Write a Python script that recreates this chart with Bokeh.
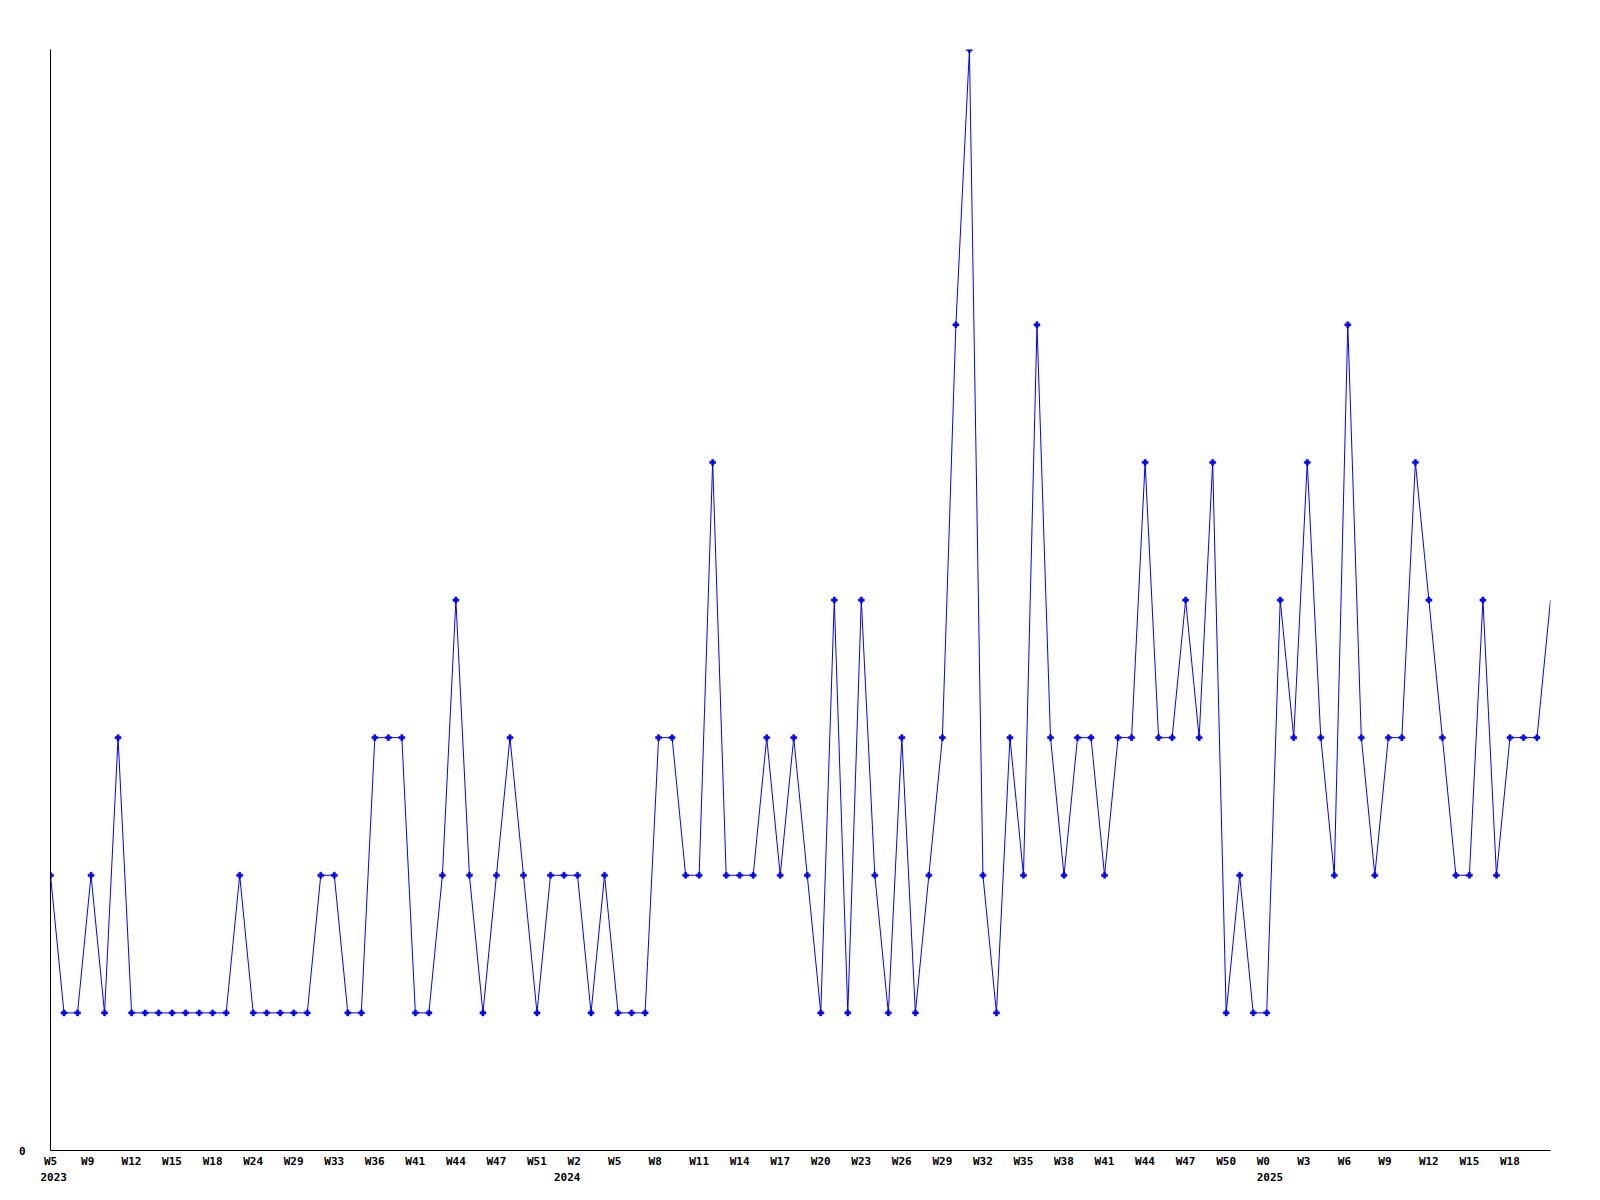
from bokeh.plotting import figure
from bokeh.models import Range1d, FixedTicker, LinearAxis, CustomJSTickFormatter
from bokeh.embed import file_html
from bokeh.resources import INLINE

# weekly values (one per point, left to right)
values = [2, 1, 1, 2, 1, 3, 1, 1, 1, 1,
          1, 1, 1, 1, 2, 1, 1, 1, 1, 1,
          2, 2, 1, 1, 3, 3, 3, 1, 1, 2,
          4, 2, 1, 2, 3, 2, 1, 2, 2, 2,
          1, 2, 1, 1, 1, 3, 3, 2, 2, 5,
          2, 2, 2, 3, 2, 3, 2, 1, 4, 1,
          4, 2, 1, 3, 1, 2, 3, 6, 8, 2,
          1, 3, 2, 6, 3, 2, 3, 3, 2, 3,
          3, 5, 3, 3, 4, 3, 5, 1, 2, 1,
          1, 4, 3, 5, 3, 2, 6, 3, 2, 3,
          3, 5, 4, 3, 2, 2, 4, 2, 3, 3,
          3, 4]
x_idx = list(range(len(values)))

# week tick labels (every third point)
week_labels = ["W5", "W9", "W12", "W15", "W18", "W24", "W29", "W33", "W36", "W41",
               "W44", "W47", "W51", "W2", "W5", "W8", "W11", "W14", "W17", "W20",
               "W23", "W26", "W29", "W32", "W35", "W38", "W41", "W44", "W47", "W50",
               "W0", "W3", "W6", "W9", "W12", "W15", "W18"]
week_positions = [3 * i for i in range(len(week_labels))]

# year labels
year_labels = ["2023", "2024", "2025"]
year_positions = [0, 38, 90]

FONT = "DejaVu Sans Mono"
FS = 11
CHAR_W = 0.602 * FS

W, H = 1592, 1192
BL, BT = 50, 49
BR, BB = W - 1550, H - 1150
frame_w = W - BL - BR
px_per_unit = frame_w / (len(values) - 1)

def shifted(pos, labels):
    # labels are left-aligned 10px before the point; bokeh centres them
    out = []
    for p_, lab in zip(pos, labels):
        off = -10 + len(lab) * CHAR_W / 2
        out.append(max(0.0, p_ + off / px_per_unit))
    return out

p = figure(width=W, height=H, output_backend="svg", toolbar_location=None,
           x_range=Range1d(0, len(values) - 1), y_range=Range1d(0, 8),
           min_border_left=BL, min_border_right=BR, min_border_top=BT,
           min_border_bottom=BB, x_axis_location=None, y_axis_location=None)
p.outline_line_color = None
p.xgrid.visible = False
p.ygrid.visible = False
p.background_fill_color = "white"
p.border_fill_color = "white"

p.line(x_idx, values, line_color="#0000ff", line_width=1)
p.scatter(x_idx[:-1], values[:-1], marker="plus", size=6,
          fill_color="#0000ff", line_color="#0000ff", line_width=0.5)

def style(ax):
    ax.major_tick_line_color = None
    ax.minor_tick_line_color = None
    ax.major_tick_out = 0
    ax.major_tick_in = 0
    ax.minor_tick_out = 0
    ax.minor_tick_in = 0
    ax.major_label_text_font = FONT
    ax.major_label_text_font_style = "bold"
    ax.major_label_text_font_size = f"{FS}px"
    ax.major_label_text_color = "black"

yax = LinearAxis(ticker=FixedTicker(ticks=[0]))
style(yax)
yax.axis_line_color = "black"
yax.axis_line_width = 1
yax.major_label_standoff = 25
p.add_layout(yax, "left")

wk_ticks = shifted(week_positions, week_labels)
xax = LinearAxis(ticker=FixedTicker(ticks=wk_ticks),
                 formatter=CustomJSTickFormatter(
                     args=dict(pos=week_positions, labs=week_labels),
                     code="""
const i = pos.indexOf(Math.round(tick));
return i >= 0 ? labs[i] : '';
"""))
style(xax)
xax.axis_line_color = "black"
xax.axis_line_width = 1
xax.major_label_standoff = 4
p.add_layout(xax, "below")

yr_ticks = shifted(year_positions, year_labels)
yrax = LinearAxis(ticker=FixedTicker(ticks=yr_ticks),
                  formatter=CustomJSTickFormatter(
                      args=dict(pos=year_positions, labs=year_labels),
                      code="""
const i = pos.indexOf(Math.round(tick));
return i >= 0 ? labs[i] : '';
"""))
style(yrax)
yrax.axis_line_color = None
yrax.major_label_standoff = 2
p.add_layout(yrax, "below")

open("out.html", "w").write(file_html(p, INLINE))
